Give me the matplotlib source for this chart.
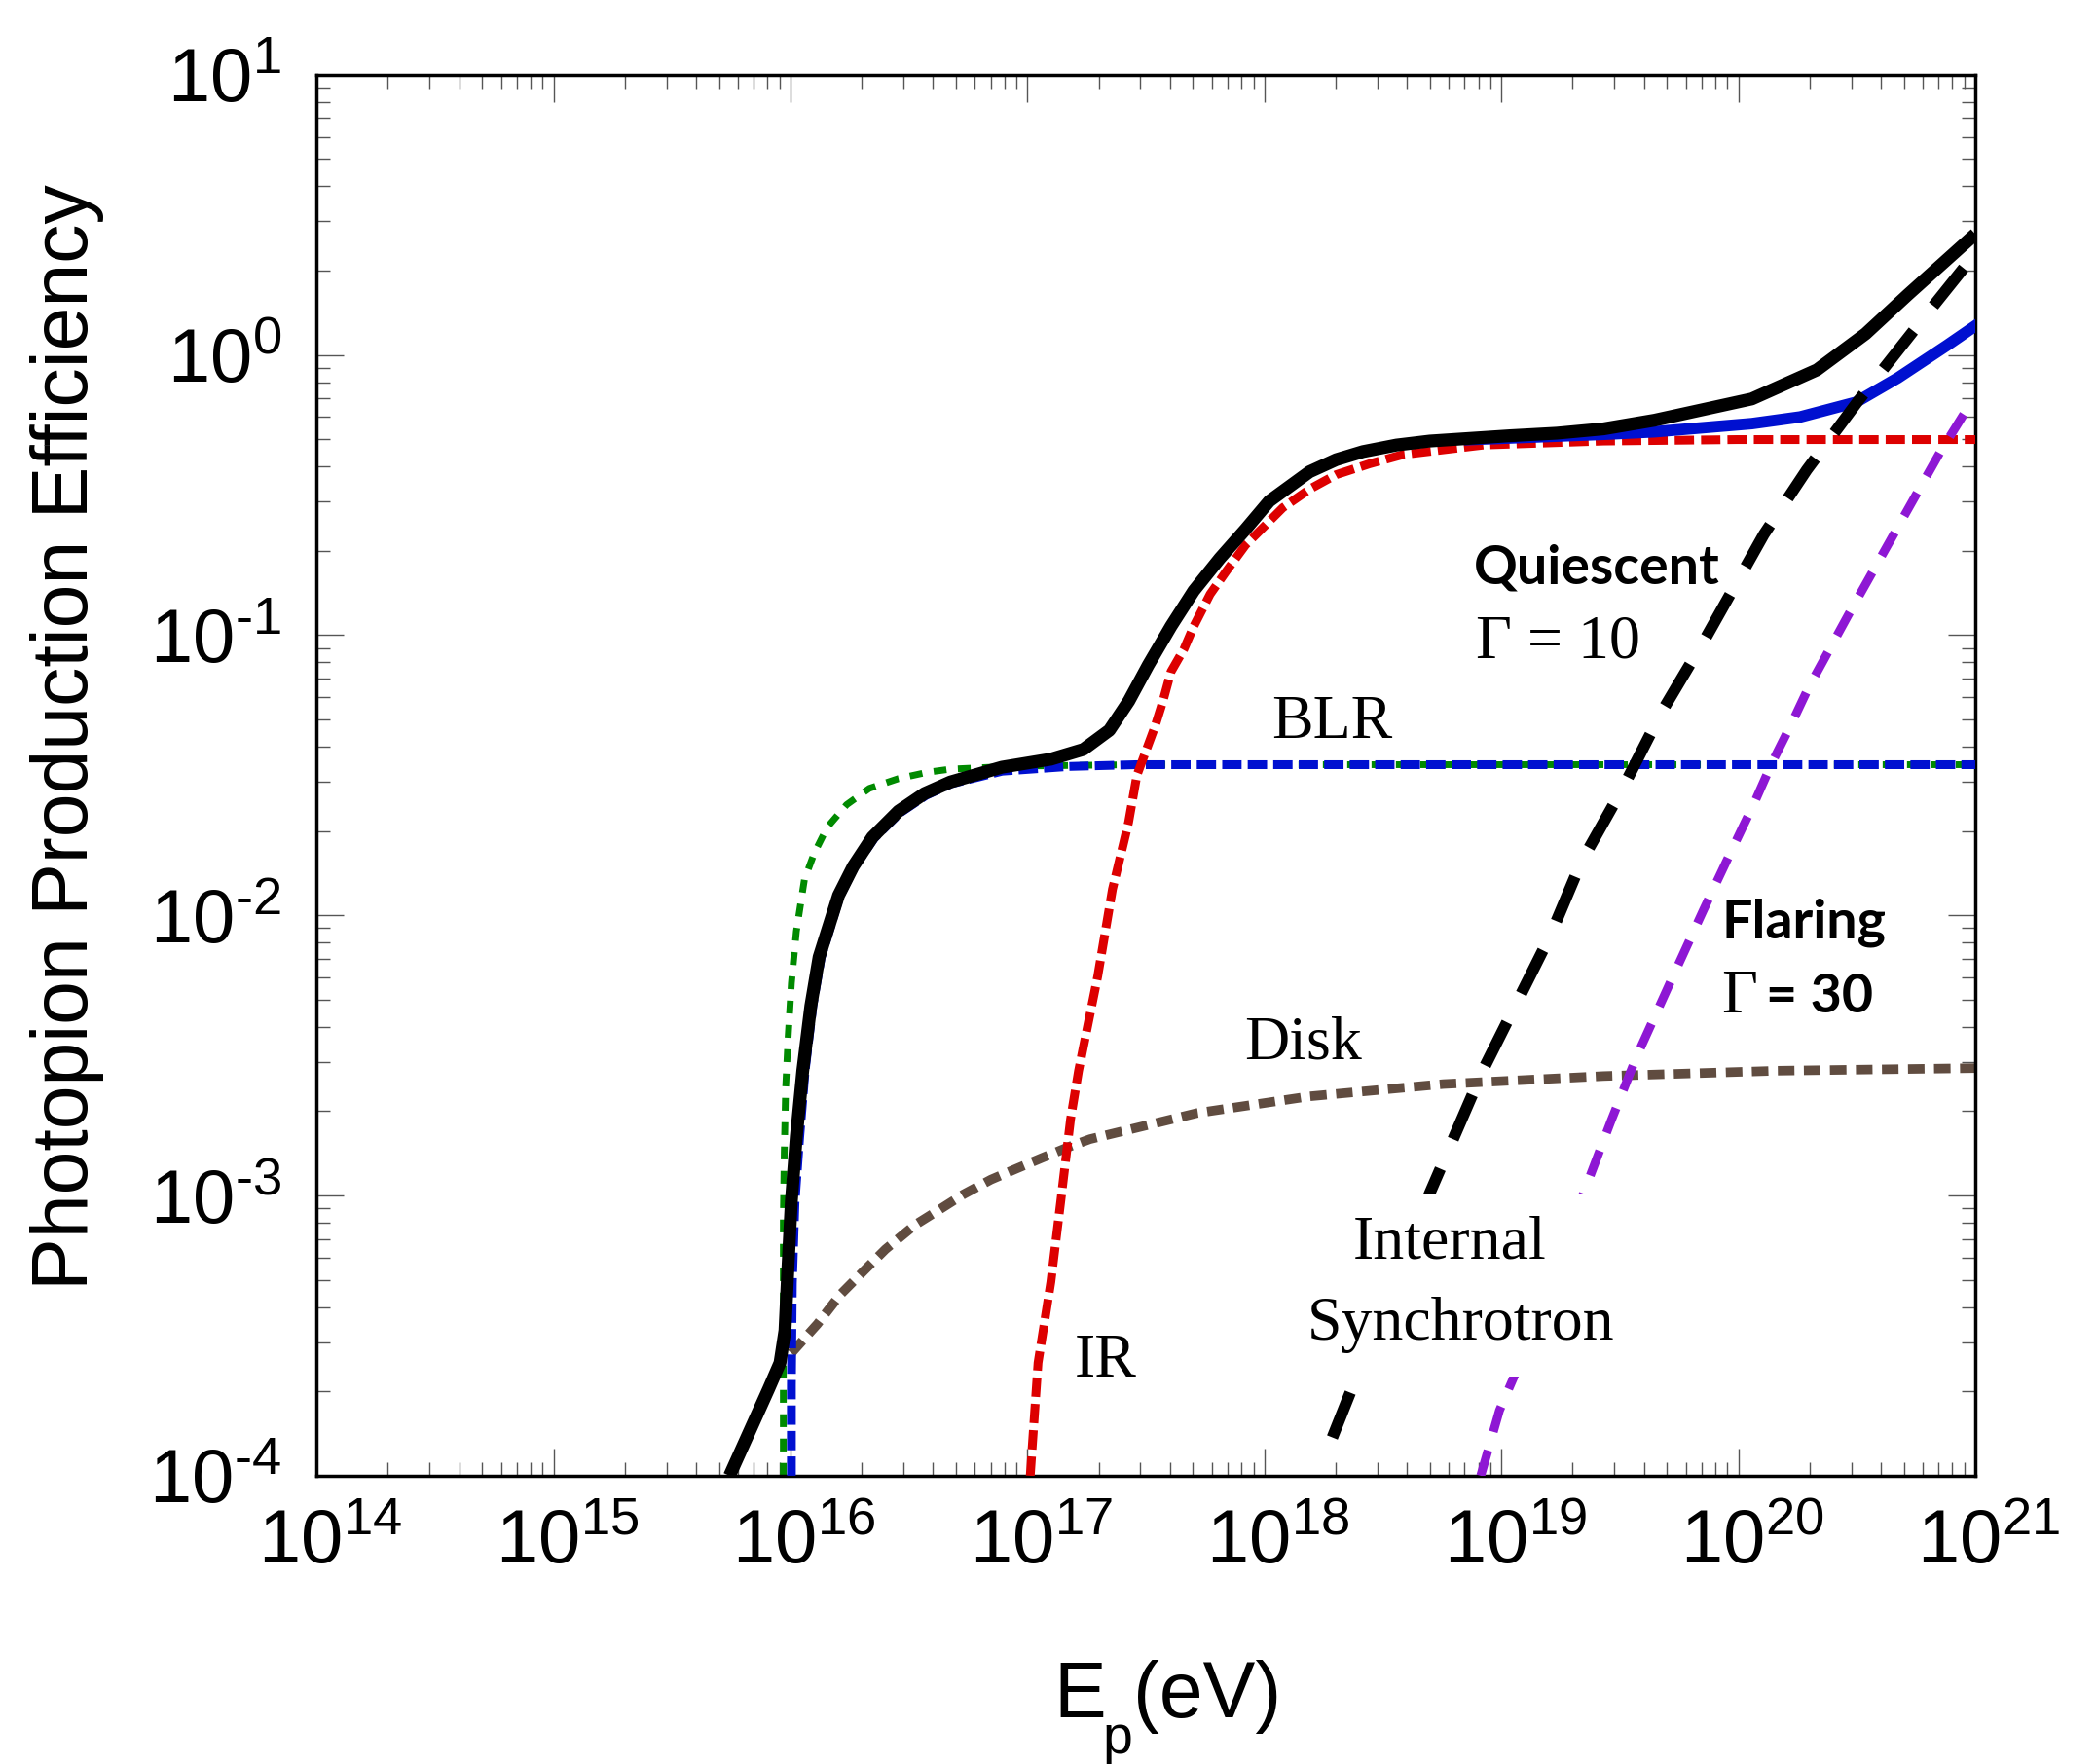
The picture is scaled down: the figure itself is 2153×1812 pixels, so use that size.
import numpy as np
import matplotlib
matplotlib.use('Agg')
import matplotlib.pyplot as plt
from matplotlib.patches import Rectangle
from matplotlib.ticker import LogLocator, FuncFormatter, NullFormatter
from matplotlib.transforms import ScaledTranslation

plt.rcParams['font.family'] = ['Liberation Sans Narrow', 'Liberation Sans']
plt.rcParams['mathtext.fontset'] = 'custom'
plt.rcParams['mathtext.rm'] = 'Liberation Sans Narrow'

# proton energy as log10(E/eV), efficiency as plain numbers
total_logE = [15.743, 15.908, 15.956, 15.977, 15.990, 16.004, 16.025, 16.052, 16.086,
              16.121, 16.203, 16.265, 16.346, 16.456, 16.566, 16.675, 16.893,
              17.099, 17.236, 17.346, 17.428, 17.510, 17.606, 17.702, 17.812, 17.921,
              18.021, 18.191, 18.303, 18.416, 18.557, 18.698, 19.037, 19.234, 19.431,
              19.646, 20.057, 20.332, 20.537, 20.715, 21.0]
total_eff = [1.0e-4, 2.04e-4, 2.53e-4, 3.30e-4, 5.62e-4, 9.59e-4, 1.63e-3, 2.79e-3, 4.75e-3,
             7.10e-3, 0.01178, 0.01496, 0.01901, 0.02355, 0.02723, 0.02992, 0.0338,
             0.0361, 0.0391, 0.0458, 0.0582, 0.0782, 0.1076, 0.144, 0.188, 0.239,
             0.301, 0.383, 0.423, 0.452, 0.477, 0.493, 0.515, 0.526, 0.545,
             0.585, 0.697, 0.885, 1.19, 1.64, 2.70]

sum_logE = [18.867, 19.431, 19.646, 20.057, 20.261, 20.496, 20.673, 20.879, 21.0]
sum_eff = [0.499, 0.521, 0.532, 0.569, 0.601, 0.678, 0.828, 1.08, 1.27]

ir_logE = [17.012, 17.045, 17.099, 17.141, 17.182, 17.216, 17.297, 17.359, 17.427,
           17.462, 17.538, 17.572, 17.606, 17.661, 17.702, 17.771, 17.839,
           17.921, 18.078, 18.191, 18.303, 18.444, 18.585, 18.924, 19.431, 19.995, 21.0]
ir_eff = [1.0e-4, 2.53e-4, 4.92e-4, 9.59e-4, 1.87e-3, 2.79e-3, 6.08e-3, 0.0124, 0.0215,
          0.0316, 0.0471, 0.0582, 0.0741, 0.0893, 0.1076, 0.140, 0.169,
          0.210, 0.285, 0.332, 0.374, 0.409, 0.441, 0.477, 0.493, 0.499, 0.499]

blr_logE = [16.004, 16.004, 16.008, 16.019, 16.039, 16.062, 16.095, 16.130,
            16.210, 16.273, 16.355, 16.462, 16.572, 16.679, 16.893, 17.175, 17.457, 21.0]
blr_eff = [1.0e-4, 2.10e-4, 4.86e-4, 9.40e-4, 1.62e-3, 2.79e-3, 4.78e-3, 7.10e-3,
           0.01178, 0.0150, 0.0189, 0.0232, 0.0268, 0.0295, 0.0327, 0.0340, 0.0345, 0.0345]

blr2_logE = [15.970, 15.970, 15.970, 15.974, 15.980, 15.990, 16.004, 16.025, 16.059,
             16.100, 16.155, 16.237, 16.333, 16.456, 16.579, 16.675, 16.950, 17.457, 21.0]
blr2_eff = [1.0e-4, 4.92e-4, 8.39e-4, 1.43e-3, 2.44e-3, 3.64e-3, 5.73e-3, 8.77e-3, 0.01342,
            0.01663, 0.02061, 0.02483, 0.02840, 0.03077, 0.03243, 0.03326, 0.0341, 0.0345, 0.0345]

disk_logE = [16.004, 16.114, 16.209, 16.312, 16.401, 16.525, 16.627, 16.730, 16.846,
             16.956, 17.059, 17.182, 17.264, 17.716, 18.191, 18.755, 19.431, 20.165, 21.0]
disk_eff = [2.74e-4, 3.48e-4, 4.42e-4, 5.41e-4, 6.43e-4, 7.85e-4, 8.89e-4, 1.01e-3, 1.14e-3,
            1.25e-3, 1.36e-3, 1.50e-3, 1.59e-3, 1.97e-3, 2.26e-3, 2.50e-3, 2.67e-3, 2.79e-3, 2.85e-3]

syn10_logE = [18.287, 18.698, 18.924, 19.206, 19.338, 19.508, 19.677, 19.860, 20.108,
              20.289, 20.506, 20.765, 21.0]
syn10_eff = [1.37e-4, 1.02e-3, 2.82e-3, 8.45e-3, 0.01556, 0.0280, 0.0533, 0.097, 0.229,
             0.389, 0.686, 1.30, 2.30]

syn30_logE = [18.913, 18.992, 19.065, 19.347, 19.460, 19.572, 19.713, 19.854, 19.988,
              20.070, 20.146, 20.228, 20.296, 20.464, 20.661, 20.851, 20.950, 20.988]
syn30_eff = [1.0e-4, 1.71e-4, 2.38e-4, 1.02e-3, 1.82e-3, 3.15e-3, 5.77e-3, 0.0105, 0.01824,
             0.02547, 0.0356, 0.0490, 0.0649, 0.118, 0.233, 0.449, 0.612, 0.686]


def E(logs):
    return 10 ** np.asarray(logs)


fig = plt.figure(figsize=(21.53, 18.12), dpi=100)
ax = fig.add_axes([0.151, 0.1634, 0.7914, 0.7942])

ax.plot(E(blr2_logE), blr2_eff, color='#008a00', lw=5, ls=(0, (1.9, 1.7)),
        dash_capstyle='butt', zorder=2)
ax.plot(E(disk_logE), disk_eff, color='#604c40', lw=7, ls=(0, (1.75, 1.0)),
        dash_capstyle='butt', zorder=2)
ax.plot(E(blr_logE), blr_eff, color='#0010d0', lw=6.5, ls=(0, (2.2, 0.7)),
        dash_capstyle='butt', zorder=3)
ax.plot(E(ir_logE), ir_eff, color='#dd0000', lw=6.5, ls=(0, (2.2, 0.8)),
        dash_capstyle='butt', zorder=4)
ax.plot(E(sum_logE), sum_eff, color='#0010d0', lw=8.5, zorder=5)
ax.plot(E(syn30_logE), syn30_eff, color='#8e17d4', lw=6.5, ls=(0, (3.0, 2.2)),
        dash_capstyle='butt', zorder=5)
ax.plot(E(syn10_logE), syn10_eff, color='black', lw=8.5, ls=(0, (4.2, 2.8)),
        dash_capstyle='butt', zorder=6)
ax.plot(E(total_logE), total_eff, color='black', lw=9.5, zorder=7,
        solid_capstyle='butt', solid_joinstyle='round')

ax.set_xscale('log')
ax.set_yscale('log')
ax.set_xlim(1e14, 1e21)
ax.set_ylim(1e-4, 1e1)


def decade(v, pos):
    n = int(round(np.log10(v)))
    s = str(n).replace('-', '\u2010')
    return r'$\mathregular{10^{%s}}$' % s


for axis in (ax.xaxis, ax.yaxis):
    axis.set_major_locator(LogLocator(base=10, numticks=20))
    axis.set_minor_locator(LogLocator(base=10, subs=np.arange(2, 10), numticks=20))
    axis.set_minor_formatter(NullFormatter())
    axis.set_major_formatter(FuncFormatter(decade))

ax.tick_params(which='both', direction='in', top=True, right=True,
               color='#555555', width=1.0, labelsize=56, labelcolor='black')
ax.tick_params(which='major', length=20)
ax.tick_params(which='minor', length=10)
ax.tick_params(axis='x', pad=24)
ax.tick_params(axis='y', pad=26)
for sp in ax.spines.values():
    sp.set_linewidth(2.5)

shift = ScaledTranslation(0.14, 0, fig.dpi_scale_trans)
for lab in ax.get_xticklabels():
    lab.set_transform(lab.get_transform() + shift)

# curve labels
serif = dict(family='Liberation Serif', fontsize=46, transform=ax.transAxes, zorder=9)
ax.text(0.612, 0.527, 'BLR', ha='center', va='baseline', **serif)
ax.text(0.595, 0.298, 'Disk', ha='center', va='baseline', **serif)
ax.text(0.476, 0.071, 'IR', ha='center', va='baseline', **serif)

# white block behind the two-line label hides the curves passing under it
ax.add_patch(Rectangle((0.589, 0.0706), 0.2015, 0.1307, transform=ax.transAxes,
                       facecolor='white', edgecolor='none', zorder=8))
ax.text(0.683, 0.155, 'Internal', ha='center', va='baseline', **serif)
ax.text(0.690, 0.097, 'Synchrotron', ha='center', va='baseline', **serif)

bold = dict(family='Lato', fontweight='bold', fontsize=40, transform=ax.transAxes, zorder=9)
ax.text(0.772, 0.6365, 'Quiescent', ha='center', va='baseline', **bold)
ax.text(0.699, 0.584, 'Γ = 10', ha='left', va='baseline', **serif)
ax.text(0.847, 0.3836, 'Flaring', ha='left', va='baseline', **bold)
ax.text(0.847, 0.331, 'Γ', ha='left', va='baseline', **serif)
ax.text(0.874, 0.331, '= 30', ha='left', va='baseline', **bold)

# axis titles
fig.text(0.032, 0.582, 'Photopion Production Efficiency', rotation=90,
         ha='center', va='center', fontsize=58, family='Liberation Sans')
fig.text(0.5025, 0.0265, 'E', ha='left', va='baseline', fontsize=58)
fig.text(0.5258, 0.006, 'p', ha='left', va='baseline', fontsize=40)
fig.text(0.5405, 0.0265, '(eV)', ha='left', va='baseline', fontsize=58)

fig.savefig('out.png', dpi=100)
